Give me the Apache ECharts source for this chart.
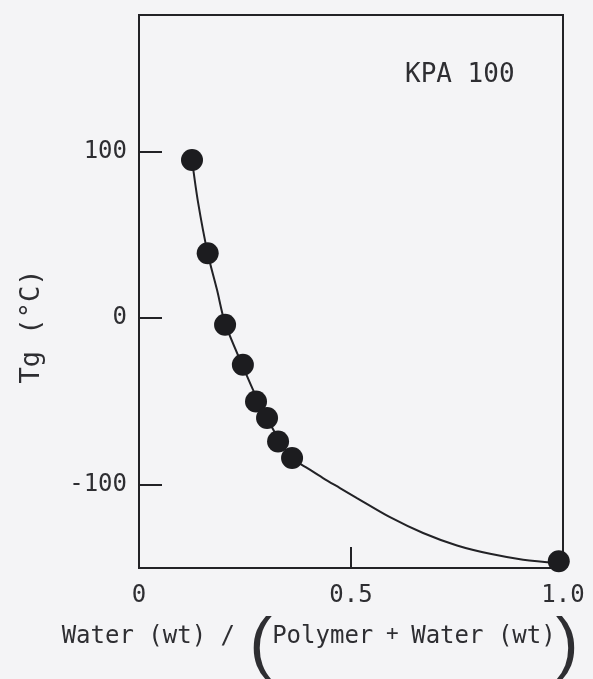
<!DOCTYPE html>
<html>
<head>
<meta charset="utf-8">
<script src="https://cdn.jsdelivr.net/npm/echarts@6/dist/echarts.min.js"></script>
<style>
  html, body { margin: 0; padding: 0; background: #f4f4f6; }
  #chart { width: 593px; height: 679px; }
</style>
</head>
<body>
<div id="chart"></div>
<script>
// Measured glass-transition points: [water fraction, Tg (°C)]
const pointsX = [0.125, 0.162, 0.203, 0.245, 0.276, 0.302, 0.328, 0.361, 0.99];
const pointsY = [95, 39, -4, -28, -50, -60, -74, -84, -146];

// Fitted curve
const curveX = [0.125, 0.139, 0.162, 0.184, 0.203, 0.245, 0.276, 0.302, 0.328, 0.361, 0.400, 0.434, 0.474, 0.514, 0.592, 0.670, 0.750, 0.828, 0.906, 0.99];
const curveY = [95, 70, 39, 17, -3, -29, -47, -60, -72, -84, -90.5, -96, -102, -108, -119.5, -129, -136.5, -141.5, -145, -147];

const xTickLabels = [0, 0.5, 1.0];
const xTickMarks = [0.5];
const yTickLabels = [-100, 0, 100];

const sampleLabel = 'KPA 100';
const xTitleA = 'Water (wt) / ';
const xTitleB1 = 'Polymer';
const xTitlePlus = ' + ';
const xTitleB2 = 'Water (wt)';
const yTitle = 'Tg (°C)';

const FONT = '"DejaVu Sans Mono", monospace';
const INK = '#222226';
const TEXT = '#2e2e32';

const chart = echarts.init(document.getElementById('chart'), null, { renderer: 'canvas' });

chart.setOption({
  backgroundColor: '#f4f4f6',
  animation: false,
  grid: {
    left: 139, right: 30, top: 15, bottom: 111,
    containLabel: false, outerBoundsMode: 'none',
    show: true, borderColor: INK, borderWidth: 2, backgroundColor: 'transparent'
  },
  xAxis: {
    type: 'value', min: 0, max: 1,
    splitLine: { show: false },
    axisLine: { show: true, onZero: false, lineStyle: { color: INK, width: 2 } },
    axisTick: { show: true, inside: true, length: 21, customValues: xTickMarks, lineStyle: { color: INK, width: 2 } },
    axisLabel: {
      customValues: xTickLabels, margin: 16,
      fontFamily: FONT, fontSize: 24, color: TEXT,
      formatter: v => (v === 0 ? '0' : v.toFixed(1))
    },
    name: '{a|' + xTitleA + '}{p|(}{a|' + xTitleB1 + '}{s|' + xTitlePlus + '}{a|' + xTitleB2 + '}{p|)}',
    nameLocation: 'middle',
    nameGap: 46,
    nameTextStyle: {
      padding: [0, 62, 0, 0],
      rich: {
        a: { fontFamily: FONT, fontSize: 24, color: TEXT, lineHeight: 40, verticalAlign: 'top', padding: [6, 0, 0, 0] },
        s: { fontFamily: FONT, fontSize: 21, color: TEXT, lineHeight: 40, verticalAlign: 'top', padding: [5, 0, 0, 0] },
        p: { fontFamily: '"Liberation Sans", sans-serif', fontSize: 68, color: TEXT, lineHeight: 56 }
      }
    }
  },
  yAxis: {
    type: 'value', min: -150, max: 182,
    splitLine: { show: false },
    axisLine: { show: true, onZero: false, lineStyle: { color: INK, width: 2 } },
    axisTick: { show: true, inside: true, length: 23, customValues: yTickLabels, lineStyle: { color: INK, width: 2 } },
    axisLabel: {
      customValues: yTickLabels, margin: 12,
      fontFamily: FONT, fontSize: 24, color: TEXT
    },
    name: yTitle,
    nameLocation: 'middle',
    nameRotate: 90,
    nameGap: 94,
    nameTextStyle: { fontFamily: FONT, fontSize: 27, color: TEXT, padding: [0, 70, 0, 0] }
  },
  graphic: [{
    type: 'text',
    left: 405, top: 62,
    style: { text: sampleLabel, font: '26px "DejaVu Sans Mono", monospace', fill: TEXT }
  }],
  series: [
    {
      type: 'line',
      data: curveX.map((x, i) => [x, curveY[i]]),
      smooth: 0.3,
      showSymbol: false,
      lineStyle: { color: INK, width: 2 },
      z: 2
    },
    {
      type: 'scatter',
      data: pointsX.map((x, i) => [x, pointsY[i]]),
      symbol: 'circle',
      symbolSize: 22,
      itemStyle: { color: '#1c1c1f', opacity: 1 },
      z: 3
    }
  ]
});
</script>
</body>
</html>
